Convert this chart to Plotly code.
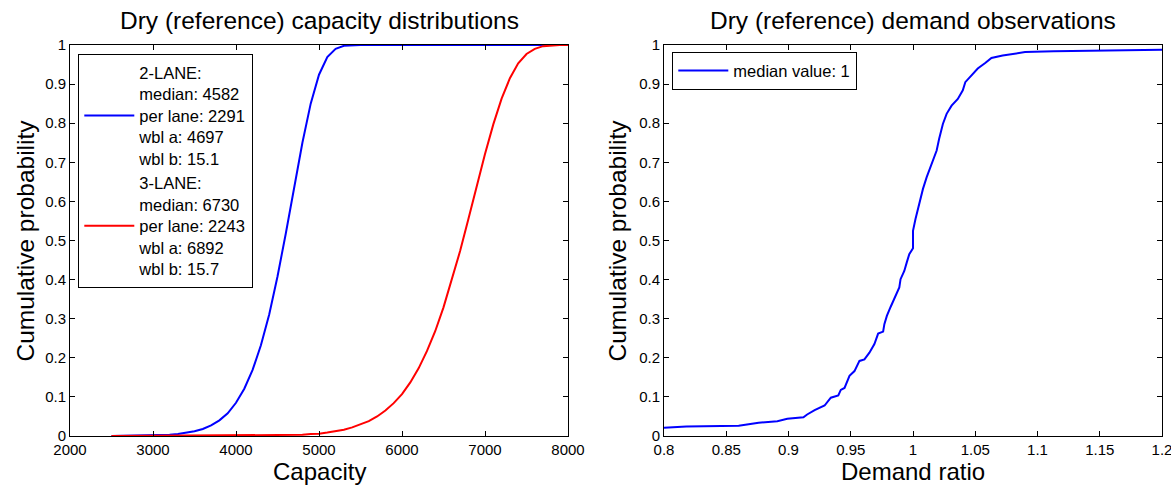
import plotly.graph_objects as go

# ---- Capacity distributions (cumulative probability read per capacity step) ----
two_lane_capacity = [2500, 3000, 3100, 3200, 3300, 3400, 3500, 3600, 3700, 3800, 3900,
                     4000, 4100, 4200, 4300, 4400, 4500, 4600, 4700, 4800, 4900,
                     5000, 5100, 5200, 5300, 5400, 5500, 8000]
two_lane_prob = [0.0, 0.001, 0.002, 0.003, 0.005, 0.008, 0.012, 0.018, 0.027, 0.040, 0.058,
                 0.085, 0.121, 0.169, 0.232, 0.311, 0.408, 0.518, 0.636, 0.750, 0.850,
                 0.924, 0.969, 0.990, 0.998, 0.9997, 1.0, 1.0]

three_lane_capacity = [2500, 4400, 4600, 4800, 4900, 5000, 5100, 5200, 5300, 5400, 5500,
                       5600, 5700, 5800, 5900, 6000, 6100, 6200, 6300, 6400, 6500,
                       6600, 6700, 6800, 6900, 7000, 7100, 7200, 7300, 7400, 7500,
                       7600, 7700, 7800, 7900, 8000]
three_lane_prob = [0.0, 0.001, 0.002, 0.003, 0.005, 0.006, 0.009, 0.012, 0.016, 0.022, 0.029,
                   0.038, 0.050, 0.065, 0.084, 0.107, 0.137, 0.173, 0.217, 0.268, 0.329,
                   0.398, 0.473, 0.555, 0.639, 0.721, 0.797, 0.863, 0.915, 0.953, 0.977,
                   0.990, 0.997, 0.999, 1.0, 1.0]

two_lane_stats = {"median": 4582, "per lane": 2291, "wbl a": 4697, "wbl b": 15.1}
three_lane_stats = {"median": 6730, "per lane": 2243, "wbl a": 6892, "wbl b": 15.7}

# ---- Demand observations (empirical CDF of demand ratio) ----
demand_ratio = [0.800, 0.818, 0.860, 0.870, 0.876, 0.891, 0.899, 0.912, 0.915, 0.921,
                0.929, 0.934, 0.940, 0.942, 0.945, 0.949, 0.953, 0.957, 0.961, 0.965,
                0.969, 0.972, 0.976, 0.977, 0.979, 0.982, 0.985, 0.989, 0.990, 0.993,
                0.995, 0.997, 1.000, 1.000, 1.002, 1.004, 1.006, 1.008, 1.011, 1.014,
                1.016, 1.019, 1.021, 1.024, 1.027, 1.031, 1.036, 1.040, 1.042, 1.048,
                1.052, 1.058, 1.063, 1.072, 1.081, 1.090, 1.113, 1.158, 1.200]
demand_prob = [0.021, 0.024, 0.026, 0.030, 0.034, 0.038, 0.044, 0.048, 0.055, 0.066,
               0.078, 0.098, 0.104, 0.118, 0.123, 0.154, 0.166, 0.192, 0.196, 0.213,
               0.235, 0.262, 0.267, 0.286, 0.307, 0.330, 0.350, 0.380, 0.401, 0.422,
               0.444, 0.465, 0.480, 0.525, 0.555, 0.581, 0.610, 0.632, 0.662, 0.688,
               0.709, 0.730, 0.760, 0.798, 0.824, 0.845, 0.862, 0.884, 0.905, 0.925,
               0.940, 0.954, 0.967, 0.973, 0.978, 0.982, 0.984, 0.986, 0.988]
demand_median = 1

capacity_ticks = [2000, 3000, 4000, 5000, 6000, 7000, 8000]
ratio_ticks = [0.8, 0.85, 0.9, 0.95, 1, 1.05, 1.1, 1.15, 1.2]
prob_ticks = [0, 0.1, 0.2, 0.3, 0.4, 0.5, 0.6, 0.7, 0.8, 0.9, 1]

W, H = 1171, 485
FONT = "Liberation Sans, Arial, sans-serif"
BIG = 24.5
AXT = 24
TICK = 15
LEG = 16.5


def legend_label(name, stats):
    rows = [f"{name}:"] + [f"{k}: {v}" for k, v in stats.items()]
    return "<br>".join(rows)


fig = go.Figure()

fig.add_trace(go.Scatter(
    x=two_lane_capacity, y=two_lane_prob, mode="lines",
    line=dict(color="#0000FF", width=2),
    name=legend_label("2-LANE", two_lane_stats),
    xaxis="x", yaxis="y", legend="legend"))
fig.add_trace(go.Scatter(
    x=three_lane_capacity, y=three_lane_prob, mode="lines",
    line=dict(color="#FF0000", width=2),
    name=legend_label("3-LANE", three_lane_stats),
    xaxis="x", yaxis="y", legend="legend"))
fig.add_trace(go.Scatter(
    x=demand_ratio, y=demand_prob, mode="lines",
    line=dict(color="#0000FF", width=2),
    name=f"median value: {demand_median}",
    xaxis="x2", yaxis="y2", legend="legend2"))

# pixel layout of the two plot boxes
L1, R1 = 70, 568
L2, R2 = 664, 1162
TOP, BOT = 45, 436


def px_x(p):
    return p / W


def px_y(p):
    return 1 - p / H


axis_common = dict(
    showline=True, linecolor="black", linewidth=1, mirror="allticks",
    ticks="inside", ticklen=5, tickcolor="black", tickwidth=1,
    showgrid=False, zeroline=False,
    tickfont=dict(family=FONT, size=TICK, color="black"),
)

fig.update_layout(
    width=W, height=H,
    margin=dict(l=0, r=0, t=0, b=0, autoexpand=False),
    paper_bgcolor="white", plot_bgcolor="white",
    font=dict(family=FONT, color="black"),
    xaxis=dict(domain=[px_x(L1), px_x(R1)], range=[2000, 8000],
               tickvals=capacity_ticks, anchor="y",
               ticklabeloverflow="allow", **axis_common),
    yaxis=dict(domain=[px_y(BOT), px_y(TOP)], range=[0, 1],
               tickvals=prob_ticks, ticktext=[f"{v:g}" for v in prob_ticks],
               anchor="x", **axis_common),
    xaxis2=dict(domain=[px_x(L2), px_x(R2)], range=[0.8, 1.2],
                tickvals=ratio_ticks, ticktext=[f"{v:g}" for v in ratio_ticks],
                anchor="y2", ticklabeloverflow="allow", **axis_common),
    yaxis2=dict(domain=[px_y(BOT), px_y(TOP)], range=[0, 1],
                tickvals=prob_ticks, ticktext=[f"{v:g}" for v in prob_ticks],
                anchor="x2", **axis_common),
    legend=dict(x=px_x(78), y=px_y(54), xanchor="left", yanchor="top",
                bgcolor="white", bordercolor="black", borderwidth=1.3,
                font=dict(family=FONT, size=LEG, color="black"),
                tracegroupgap=0, itemwidth=50),
    legend2=dict(x=px_x(672), y=px_y(52), xanchor="left", yanchor="top",
                 bgcolor="white", bordercolor="black", borderwidth=1.3,
                 font=dict(family=FONT, size=LEG, color="black"),
                 itemwidth=50),
    showlegend=True,
)

texts = [
    ("Dry (reference) capacity distributions", (L1 + R1) / 2, 21, 0, BIG),
    ("Dry (reference) demand observations", (L2 + R2) / 2, 21, 0, BIG),
    ("Capacity", (L1 + R1) / 2, 471, 0, AXT),
    ("Demand ratio", (L2 + R2) / 2, 471, 0, AXT),
    ("Cumulative probability", 25, (TOP + BOT) / 2, -90, BIG),
    ("Cumulative probability", 617, (TOP + BOT) / 2, -90, BIG),
]
for txt, xp, yp, ang, size in texts:
    fig.add_annotation(text=txt, x=px_x(xp), y=px_y(yp), xref="paper", yref="paper",
                       xanchor="center", yanchor="middle", showarrow=False,
                       textangle=ang, font=dict(family=FONT, size=size, color="black"))

fig.write_html("out.html")
